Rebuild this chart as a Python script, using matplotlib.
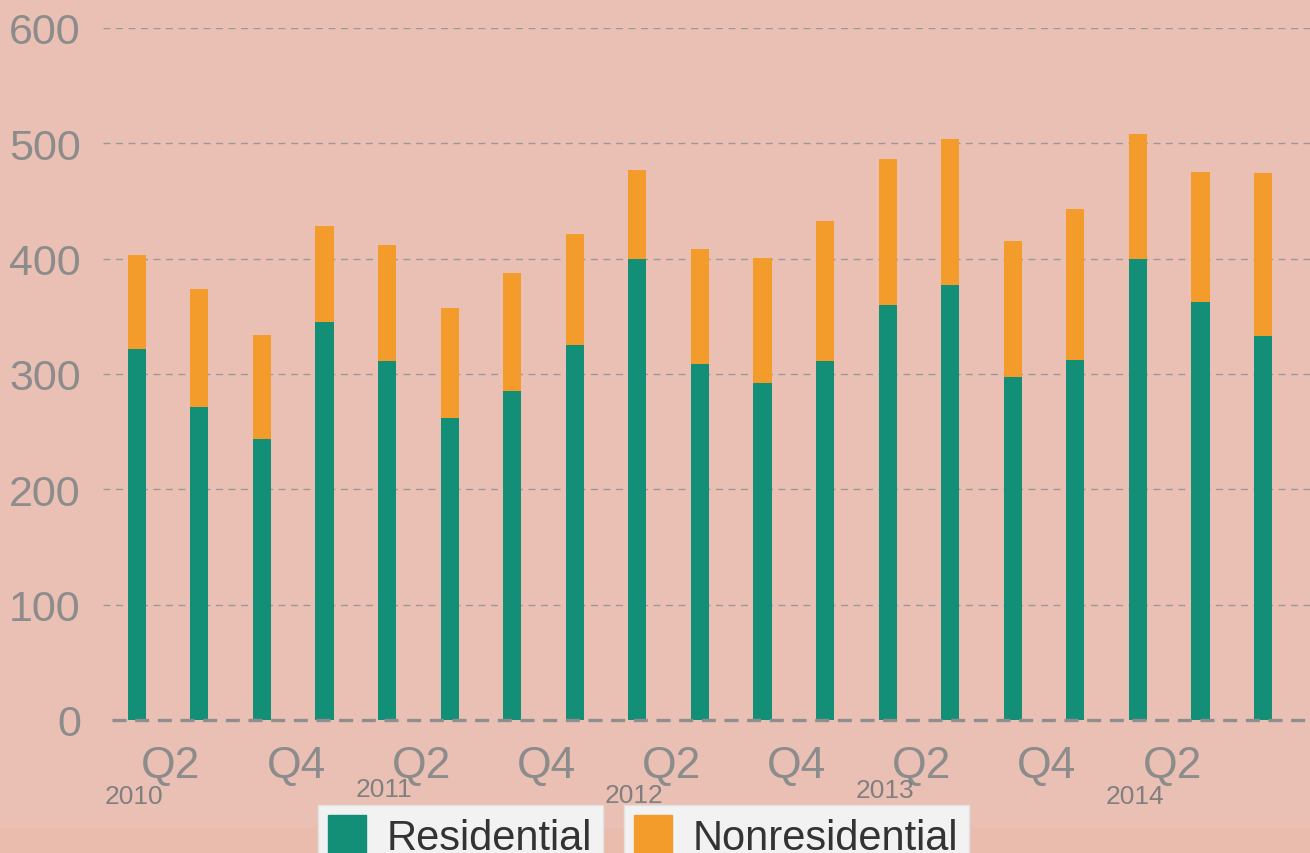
import numpy as np
import matplotlib
matplotlib.use("Agg")
from matplotlib import pyplot as plt
from matplotlib.patches import Patch, Rectangle

plt.rcParams["font.family"] = ["Liberation Sans", "DejaVu Sans"]

quarters = ["Q1", "Q2", "Q3", "Q4"] * 4 + ["Q1", "Q2", "Q3"]
years = ["2010", "2011", "2012", "2013", "2014"]
residential = [322, 271, 244, 345, 311, 262, 285, 325, 400, 309, 292, 311, 360, 377, 297, 312, 400, 362, 333]
total = [403, 374, 334, 428, 412, 357, 388, 421, 477, 408, 401, 433, 486, 504, 415, 443, 508, 475, 474]
nonresidential = [t - r for t, r in zip(total, residential)]

green = "#148F77"
orange = "#F39C2C"
grey = "#8C8C8C"
bg = "#EBC0B4"

fig = plt.figure(figsize=(13.1, 8.54), dpi=100, facecolor=bg)
fig.patches.append(Rectangle((0, 0), 1, 25 / 854, transform=fig.transFigure,
                             facecolor="#E9BCAE", edgecolor="none", zorder=-5))
ax = fig.add_axes([103 / 1310, 133 / 854, 1 - 103 / 1310, 692 / 854])
ax.set_facecolor("none")

x = np.arange(len(residential))
ax.bar(x, residential, width=0.29, color=green, zorder=3)
ax.bar(x, nonresidential, bottom=residential, width=0.29, color=orange, zorder=3)

ax.set_xlim(-0.54, 18.75)
ax.set_ylim(0, 600)

for v in range(100, 700, 100):
    ax.axhline(v, color="#999999", lw=1.0, dashes=(5, 4), zorder=1)
ax.plot([-0.4, 18.75], [0, 0], color="#8E8E8E", lw=2.4, dashes=(4.2, 2.6),
        zorder=4, clip_on=False, solid_capstyle="butt")

for s in ax.spines.values():
    s.set_visible(False)

ax.set_yticks(range(0, 700, 100))
ax.tick_params(axis="y", length=0, pad=16, labelsize=31, labelcolor=grey)
ax.set_xticks([])

for i, q in enumerate(quarters):
    if q in ("Q2", "Q4"):
        ax.text(i + 0.02, -0.066, q, transform=ax.get_xaxis_transform(),
                ha="right", va="center", fontsize=32, color=grey)

year_pos = [0, 4, 8, 12, 16]
year_y = [-0.110, -0.100, -0.109, -0.101, -0.110]
for yr, p, yy in zip(years, year_pos, year_y):
    ax.text(p - 0.05, yy, yr, transform=ax.get_xaxis_transform(),
            ha="center", va="center", fontsize=19, color="#808080")

legend_style = dict(fontsize=30, frameon=True, facecolor="#F2F2F2", edgecolor="#E2E2E2",
                    fancybox=False, framealpha=1, handlelength=0.9, handleheight=1.05,
                    handletextpad=0.5, borderpad=0.25, borderaxespad=0,
                    labelcolor="#333333")
leg1 = fig.legend(handles=[Patch(color=green, label="Residential")],
                  loc="upper left", bbox_to_anchor=(318 / 1310, 1 - 806 / 854), **legend_style)
leg2 = fig.legend(handles=[Patch(color=orange, label="Nonresidential")],
                  loc="upper left", bbox_to_anchor=(624 / 1310, 1 - 806 / 854), **legend_style)

fig.savefig("out.png", dpi=100, facecolor=bg)
